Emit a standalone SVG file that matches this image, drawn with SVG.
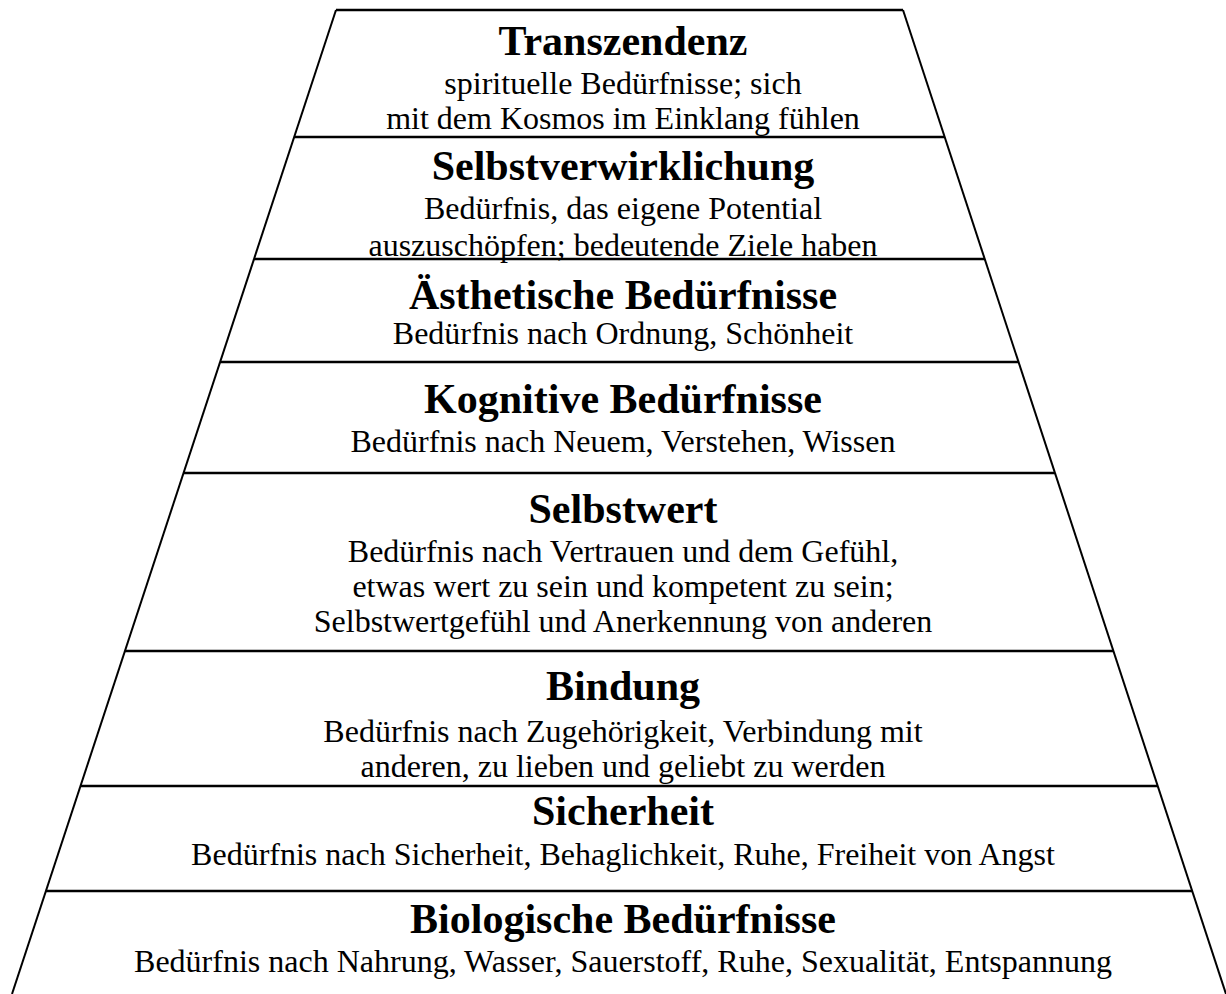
<svg xmlns="http://www.w3.org/2000/svg" width="1226" height="994" viewBox="0 0 1226 994">
  <style>
    .edge { stroke: #000; stroke-width: 2; fill: none; }
    .rule { stroke: #000; stroke-width: 2.6; fill: none; }
    .title { font-family: "Liberation Serif", "Times New Roman", serif; font-weight: bold; font-size: 42px; text-anchor: middle; fill: #000; }
    .desc { font-family: "Liberation Serif", "Times New Roman", serif; font-size: 32px; text-anchor: middle; fill: #000; }
  </style>
  <rect width="1226" height="994" fill="#fff"/>

  <!-- pyramid outline: slanted sides, top edge and level dividers -->
  <g id="connectors">
    <line class="edge" x1="336" y1="10" x2="12" y2="994"/>
    <line class="edge" x1="903" y1="10" x2="1226" y2="994"/>
    <line class="rule" x1="336" y1="10" x2="903" y2="10"/>
    <line class="rule" x1="294" y1="137" x2="945" y2="137"/>
    <line class="rule" x1="254" y1="259" x2="985" y2="259"/>
    <line class="rule" x1="220" y1="362" x2="1019" y2="362"/>
    <line class="rule" x1="184" y1="473" x2="1055" y2="473"/>
    <line class="rule" x1="125" y1="651" x2="1113" y2="651"/>
    <line class="rule" x1="81" y1="786" x2="1158" y2="786"/>
    <line class="rule" x1="46" y1="891" x2="1192" y2="891"/>
  </g>

  <g id="transzendenz">
    <text class="title" x="623" y="55">Transzendenz</text>
    <text class="desc" x="623" y="94">spirituelle Bedürfnisse; sich</text>
    <text class="desc" x="623" y="129">mit dem Kosmos im Einklang fühlen</text>
  </g>

  <g id="selbstverwirklichung">
    <text class="title" x="623" y="180">Selbstverwirklichung</text>
    <text class="desc" x="623" y="219">Bedürfnis, das eigene Potential</text>
    <text class="desc" x="623" y="256">auszuschöpfen; bedeutende Ziele haben</text>
  </g>

  <g id="aesthetische-beduerfnisse">
    <text class="title" x="623" y="309">Ästhetische Bedürfnisse</text>
    <text class="desc" x="623" y="344">Bedürfnis nach Ordnung, Schönheit</text>
  </g>

  <g id="kognitive-beduerfnisse">
    <text class="title" x="623" y="413">Kognitive Bedürfnisse</text>
    <text class="desc" x="623" y="452">Bedürfnis nach Neuem, Verstehen, Wissen</text>
  </g>

  <g id="selbstwert">
    <text class="title" x="623" y="523">Selbstwert</text>
    <text class="desc" x="623" y="562">Bedürfnis nach Vertrauen und dem Gefühl,</text>
    <text class="desc" x="623" y="597">etwas wert zu sein und kompetent zu sein;</text>
    <text class="desc" x="623" y="632">Selbstwertgefühl und Anerkennung von anderen</text>
  </g>

  <g id="bindung">
    <text class="title" x="623" y="700">Bindung</text>
    <text class="desc" x="623" y="742">Bedürfnis nach Zugehörigkeit, Verbindung mit</text>
    <text class="desc" x="623" y="777">anderen, zu lieben und geliebt zu werden</text>
  </g>

  <g id="sicherheit">
    <text class="title" x="623" y="825">Sicherheit</text>
    <text class="desc" x="623" y="865">Bedürfnis nach Sicherheit, Behaglichkeit, Ruhe, Freiheit von Angst</text>
  </g>

  <g id="biologische-beduerfnisse">
    <text class="title" x="623" y="933">Biologische Bedürfnisse</text>
    <text class="desc" x="623" y="972">Bedürfnis nach Nahrung, Wasser, Sauerstoff, Ruhe, Sexualität, Entspannung</text>
  </g>
</svg>
